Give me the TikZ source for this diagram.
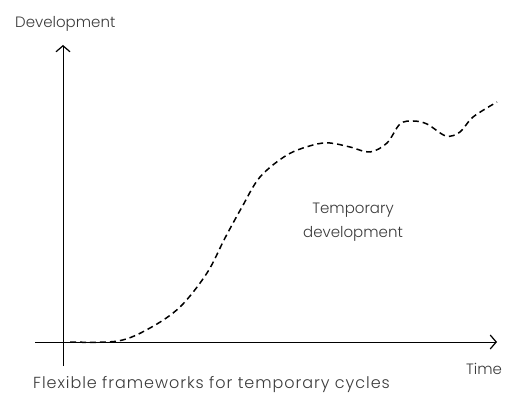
\documentclass[tikz,border=0pt]{standalone}
\usepackage{fontspec}
\setmainfont{Poppins Light}
\usetikzlibrary{arrows.meta}
\definecolor{txt}{HTML}{3A3A3A}
\tikzset{
  axis/.style={line width=1pt,-{Straight Barb[length=6pt,width=14pt,line width=1.2pt]}},
  curve/.style={line width=1.5pt,dash pattern=on 6pt off 4pt},
  lbl/.style={text=txt,font=\fontsize{15}{24}\selectfont,inner sep=0pt},
  caplbl/.style={text=txt,font=\fontsize{16}{20}\selectfont\addfontfeatures{LetterSpace=6},inner sep=0pt}
}
\begin{document}
\begin{tikzpicture}[x=1pt,y=-1pt]
\useasboundingbox (0,0) rectangle (527,403);
\coordinate (ybot) at (63,366);
\coordinate (ytop) at (63,45);
\coordinate (xl) at (35,342);
\coordinate (xr) at (497,342);
\draw[axis] (ybot) -- (ytop);
\draw[axis] (xl) -- (xr);
\node[lbl,anchor=west] (ylab) at (15,24) {Development};
\node[lbl] (xlab) at (484,369) {Time};
\node[caplbl,anchor=west] (cap) at (33,385) {Flexible frameworks for temporary cycles};
\node[lbl,align=center] (tmp) at (353,222) {Temporary\\development};
\draw[curve] plot[smooth,tension=0.55] coordinates {
 (70,342) (118,341) (150,328) (180,307) (207,273) (225,238) (242,207) (260,177)
 (287,155) (313,145) (330,143) (350,147) (370,152) (387,143) (400,124) (413,121)
 (427,124) (446,136) (460,132) (473,117) (497,102)};
\end{tikzpicture}
\end{document}
